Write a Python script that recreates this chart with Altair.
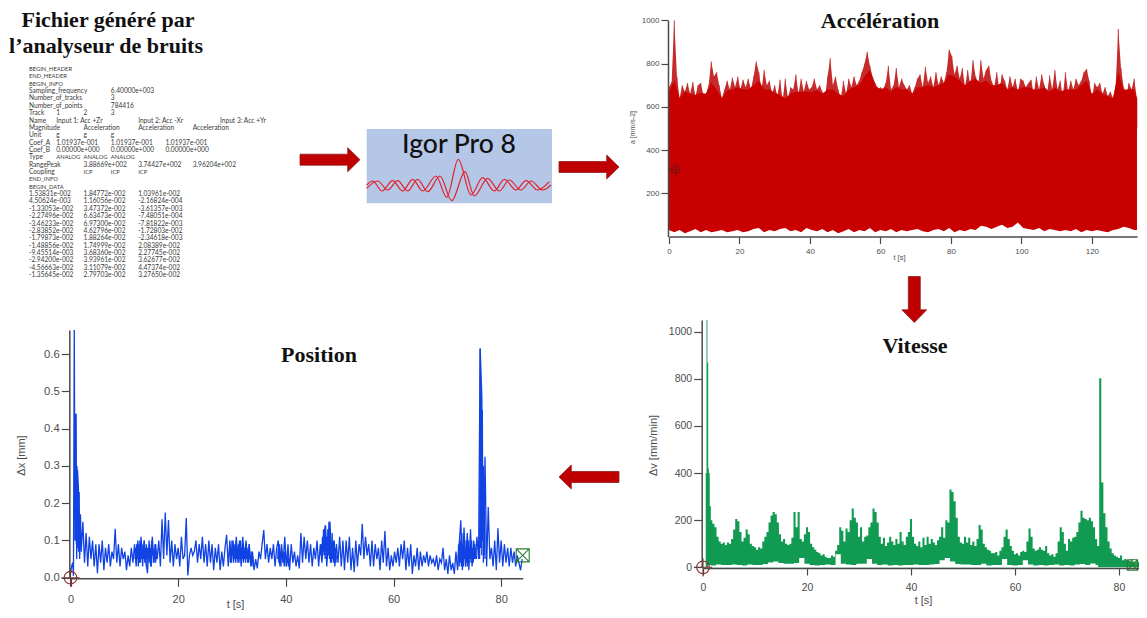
import altair as alt
import pandas as pd

# ---------- data ----------
accel_top = [690,715,1000,740,640,700,670,710,660,715,650,700,710,655,660,700,810,740,760,700,640,680,720,680,735,690,740,680,725,690,730,680,740,810,760,680,770,700,720,660,700,650,725,630,730,640,690,680,750,660,730,670,720,680,690,730,680,700,670,640,740,825,700,740,680,640,720,660,730,690,740,700,720,760,800,855,790,740,710,680,690,680,710,790,680,700,780,690,730,700,680,700,660,690,730,750,690,785,710,740,690,760,700,740,710,760,865,835,750,790,730,780,690,770,700,815,740,700,815,730,770,790,720,690,760,680,750,720,680,740,690,730,670,730,720,690,710,725,660,740,680,750,700,660,745,680,770,680,720,650,760,670,720,680,730,700,720,760,775,720,640,710,690,710,660,690,650,670,640,700,960,780,690,650,710,680,730,640]
accel_base = [670,720,640,670,660,655,665,660,710,680,640,675,680,690,680,680,700,720,680,680,665,655,640,660,670,670,670,670,675,660,680,680,660,650,680,690,700,740,770,700,680,690,670,690,680,680,660,690,690,700,690,700,710,750,740,720,700,720,730,710,720,700,700,710,680,690,680,690,690,680,680,690,670,690,670,680,680,680,700,720,660,680,660,650,640,760,680,680,680,640]
accel_low = [30,20,30,15,25,35,20,30,20,25,30,20,25,30,20,25,35,40,20,30,25,35,40,25,30,20,40,30,25,35,20,30,15,25,35,20,30,25,40,20,30,25,35,20,30,25,30,35,25,20,30,35,25,40,20,30,25,35,30,50,45,35,45,55,40,45,65,40,35,30,40,25,35,30,25,30,25,35,20,30,25,30,25,20,30,35,45,40,30,30]

pos_head_t = [0.0,0.2,0.4,0.55,0.7,0.85,1.0,1.15,1.3,1.5,1.7,1.85]
pos_head = [0.01,0.03,0.04,0.005,0.665,0.10,0.44,0.05,0.29,0.23,0.06,0.17]
pos_rows = [
 .07,.15,.04,.12,.03,.11,.05,.10,.03,.09,
 .012,.09,.04,.10,.02,.08,.04,.09,.03,.07,
 .05,.131,.04,.09,.03,.08,.05,.07,.02,.06,
 .03,.08,.04,.09,.03,.10,.04,.11,.05,.10,
 .04,.012,.10,.03,.11,.04,.09,.05,.10,.03,
 .157,.05,.175,.06,.155,.04,.10,.03,.09,.05,
 .08,.03,.11,.05,.06,.16,.006,.06,.08,.06,
 .07,.10,.04,.09,.05,.11,.04,.09,.03,.10,
 .04,.09,.02,.08,.04,.09,.02,.07,.03,.08,
 .115,.03,.10,.04,.10,.05,.11,.04,.10,.03,
 .11,.05,.10,.04,.09,.03,.07,.02,.05,.025,
 .07,.05,.09,.128,.05,.09,.04,.08,.05,.09,
 .03,.08,.10,.03,.09,.04,.11,.03,.09,.02,
 .09,.04,.07,.03,.06,.025,.12,.04,.11,.05,
 .10,.04,.09,.03,.08,.05,.10,.03,.09,.04,
 .10,.14,.03,.10,.151,.04,.10,.03,.09,.04,
 .11,.03,.10,.02,.10,.04,.11,.02,.08,.015,
 .10,.03,.09,.06,.145,.05,.11,.06,.09,.03,
 .10,.03,.09,.05,.08,.02,.10,.04,.125,.03,
 .08,.02,.06,.03,.07,.04,.08,.03,.09,.05,
 .10,.02,.08,.03,.09,.01,.06,.03,.08,.02,
 .07,.03,.06,.04,.07,.03,.06,.04,.05,.03,
 .06,.02,.05,.04,.08,.02,.05,.01,.06,.02,
 .04,.01,.07,.02,.09,.154,.02,.135,.03,.12,
 .02,.13,.03,.10,.05,.11,.05,.615,.49,.04,
 .325,.03,.19,.05,.08,.03,.10,.02,.133,.04,
 .10,.03,.09,.04,.08,.03,.08,.04,.07,.03,
 .06,.04,.02,.05]
# finer readings where the trace is densest: (first time, readings 0.1 s apart)
pos_dense = [
 (0.9, [.10,.44,.09,.30,.08,.25,.07,.23,.05]),
 (12.0, [.05,.08,.04,.09,.05,.07,.03,.09,.06,.10,.04,.08,.05,.09,.03,.07,.05,.10,.04,.08,.06,.09,.03,.08,.05,.07,.04,.09,.05,.08,.03,.10,.06,.08,.04,.07,.05,.09,.04,.06,.05]),
 (29.5, [.06,.09,.04,.08,.05,.10,.06,.08,.04,.09,.05,.07,.04,.10,.05,.08,.06,.09,.04,.07,.05,.10,.06,.08,.05,.09,.04,.07,.06,.08,.04,.09,.05,.08,.05,.07,.04,.09,.05,.06,.04,.07,.03,.06,.04]),
 (38.5, [.05,.08,.04,.09,.05,.07,.03,.08,.05,.07,.04,.06,.03,.07,.05,.06,.03,.05,.04,.06,.03,.05,.04]),
 (46.5, [.06,.09,.05,.11,.07,.13,.06,.12,.05,.14,.07,.11,.05,.13,.06,.15,.05,.12,.04,.10,.06,.12,.05,.09,.04,.10,.05,.08,.04,.06]),
 (72.0, [.05,.09,.03,.11,.04,.10,.03,.12,.05,.09,.03,.11,.05,.08,.03,.10,.04,.09,.03,.10,.04,.08,.05,.09,.04,.10,.05,.08,.04,.07,.05,.09,.06,.08,.05]),
 (76.0, [.05,.615,.08,.49,.06,.45,.10,.30,.06,.25,.05]),
]

vit_head_t = [0.45,0.6,0.75,0.95,1.05,1.2,1.4]
vit_head = [0,400,1050,870,420,400,260]
vit_rows = [
 200,185,170,130,110,100,105,95,105,100,
 120,160,205,195,150,110,125,160,140,100,
 90,85,75,85,80,110,130,150,190,220,
 235,225,190,140,110,120,100,95,100,125,
 235,170,235,120,110,140,170,150,100,85,
 75,65,60,50,55,45,40,40,50,45,
 70,95,170,155,110,165,150,200,250,210,
 190,130,170,110,130,135,170,190,250,235,
 190,130,100,125,90,105,130,110,95,120,
 100,150,110,95,130,150,205,130,100,90,
 110,85,125,95,130,100,120,105,95,115,
 130,170,125,200,190,330,320,280,210,130,
 105,100,130,105,125,95,110,90,120,180,
 160,100,85,75,70,60,60,65,50,70,
 85,130,160,120,90,70,55,60,50,65,
 70,65,110,165,130,80,70,75,85,75,
 70,90,60,50,55,45,60,110,170,150,
 100,70,120,110,125,130,150,190,240,210,
 205,200,210,195,170,120,90,803,360,230,
 170,110,80,60,50,45,40,50,30,35,
 30,25,35,25,20,22,20,20]
vit_gap = [10,8,12,10,10,12,10,8,12,10,10,14,20,25,18,15,15,18,40,15,10,8,10,12,10,55,15,12,10,15,15,35,15,10,12,8,10,8,10,10,12,10,10,12,14,30,40,25,14,12,12,10,10,15,8,10,10,35,10,8,10,30,12,8,10,8,10,12,8,10,8,12,14,10,16,10]

wave_a_x = [0.7,6.7,16,26.7,36.7,46.7,56.7,70,80.7,92.3,105,116.7,128.3,138.3,150,160,171.7,183.3]
wave_a_y = [1,5,-5,5.3,-5,6.7,-5,10,-11.3,26.7,-9,8.3,-5,6.7,-4,5.3,-4,4.3]
wave_b_x = [0.7,11.7,21.7,31.7,41.7,51.7,61.7,74,85.7,99,108.3,121.7,133.3,143.3,155,165,176.7,185]
wave_b_y = [-2.3,5,-4,5.3,-5,6.7,-5.7,10,-14.7,14.3,-10,7.7,-5,6,-4,5,-4,1]

dump_lines = [
 (0,0,"BEGIN_HEADER"),(1,0,"END_HEADER"),(2,0,"BEGIN_INFO"),
 (3,0,"Sampling_frequency"),(3,3,"6.40000e+003"),
 (4,0,"Number_of_tracks"),(4,3,"3"),
 (5,0,"Number_of_points"),(5,3,"784416"),
 (6,0,"Track"),(6,1,"1"),(6,2,"2"),(6,3,"3"),
 (7,0,"Name"),(7,1,"Input 1: Acc +Zr"),(7,4,"Input 2: Acc -Xr"),(7,7,"Input 3: Acc +Yr"),
 (8,0,"Magnitude"),(8,2,"Acceleration"),(8,4,"Acceleration"),(8,6,"Acceleration"),
 (9,0,"Unit"),(9,1,"g"),(9,2,"g"),(9,3,"g"),
 (10,0,"Coef_A"),(10,1,"1.01937e-001"),(10,3,"1.01937e-001"),(10,5,"1.01937e-001"),
 (11,0,"Coef_B"),(11,1,"0.00000e+000"),(11,3,"0.00000e+000"),(11,5,"0.00000e+000"),
 (12,0,"Type"),(12,1,"ANALOG"),(12,2,"ANALOG"),(12,3,"ANALOG"),
 (13,0,"RangePeak"),(13,2,"3.88669e+002"),(13,4,"3.74427e+002"),(13,6,"3.96204e+002"),
 (14,0,"Coupling"),(14,2,"ICP"),(14,3,"ICP"),(14,4,"ICP"),
 (15,0,"END_INFO"),(16,0,"BEGIN_DATA"),
]
dump_data = [
 ("1.53831e-002","1.84772e-002","1.03961e-002"),
 ("4.50624e-003","1.16056e-002","-2.16824e-004"),
 ("-1.33053e-002","3.47372e-002","-3.61357e-003"),
 ("-2.27496e-002","6.63473e-002","-7.48051e-004"),
 ("-3.46233e-002","6.97300e-002","-7.81822e-003"),
 ("-2.83852e-002","4.62796e-002","-1.72803e-002"),
 ("-1.79873e-002","1.88264e-002","-2.34618e-003"),
 ("-1.48856e-002","1.74999e-002","2.08389e-002"),
 ("-9.45514e-003","3.68360e-002","2.27745e-002"),
 ("-2.94200e-002","3.93961e-002","3.62677e-002"),
 ("-4.56663e-002","3.11079e-002","4.47374e-002"),
 ("-1.35645e-002","2.79703e-002","3.27650e-002"),
]

# ---------- tables ----------
n = min(len(accel_base), len(accel_low))
accel_area = pd.DataFrame({"t": [min(i * 1.5, 132.8) for i in range(n)],
                           "hi": accel_base[:n], "lo": accel_low[:n]})
accel_spikes = pd.DataFrame({"t": [i * 0.75 for i in range(len(accel_top))], "v": accel_top})
pos_df = pd.DataFrame({"t": pos_head_t + [2 + 0.3 * i for i in range(len(pos_rows))],
                       "v": pos_head + pos_rows})
dense_rows = []
for seg, (start, vals) in enumerate(pos_dense):
    for i, v in enumerate(vals):
        dense_rows.append((seg, start + 0.1 * i, v))
dense_df = pd.DataFrame(dense_rows, columns=["seg", "t", "v"])
vit_df = pd.DataFrame({"t": vit_head_t + [1.6 + 0.4 * i for i in range(len(vit_rows))],
                       "v": vit_head + vit_rows})
gap_df = pd.DataFrame({"t": [i + 1 for i in range(len(vit_gap))], "v": vit_gap})
rows = list(dump_lines)
for i, r in enumerate(dump_data):
    for c, s in zip((0, 2, 4), r):
        rows.append((17 + i, c, s))
dump_df = pd.DataFrame(rows, columns=["line", "tab", "text"])
dump_caps = dump_df[dump_df["text"].str.isupper()]
dump_rest = dump_df[~dump_df["text"].str.isupper()]

W, H = 1131, 602
FONT = "Liberation Sans"
AX = "#4a4a4a"

def axis(orient, offset, values, size, tick, title=None, tx=None, ty=None, tsize=None, pad=2):
    kw = dict(orient=orient, offset=offset, values=values, grid=False, zindex=1, format="d",
              domainColor=AX, domainWidth=1.5, tickColor=AX, tickWidth=1.2, tickSize=tick,
              labelColor="#4d4d4d", labelFont=FONT, labelFontSize=size, labelPadding=pad,
              labelFlush=False, labelOverlap=False)
    if title:
        kw.update(title=title, titleX=tx, titleY=ty, titleFont=FONT, titleFontSize=tsize,
                  titleFontWeight="normal", titleColor="#4d4d4d", titleAlign="center",
                  titleBaseline="middle")
    else:
        kw.update(title=None)
    return alt.Axis(**kw)

# panel scales (pixel ranges inside the shared canvas)
ax_scale = alt.Scale(domain=[0, 132.8], range=[661, 1129], nice=False, zero=False)
ay_scale = alt.Scale(domain=[0, 1000], range=[228.6, 12.3], nice=False)
px_scale = alt.Scale(domain=[0, 84], range=[62.5, 514.7], nice=False)
py_scale = alt.Scale(domain=[0, 0.665], range=[569.7, 322], nice=False)
vx_scale = alt.Scale(domain=[0, 85.2], range=[695, 1138], nice=False)
vy_scale = alt.Scale(domain=[0, 1050], range=[559.3, 312], nice=False)
wx_scale = alt.Scale(domain=[0, 186], range=[358, 544], nice=False)
wy_scale = alt.Scale(domain=[-20, 30], range=[198, 148], nice=False)
tab_scale = alt.Scale(domain=[0, 7], range=[21, 212], nice=False)
line_scale = alt.Scale(domain=[0, 28], range=[61, 267], nice=False)

def X(f, s, ax=None):
    return alt.X(f, type="quantitative", scale=s, axis=ax)
def Y(f, s, ax=None):
    return alt.Y(f, type="quantitative", scale=s, axis=ax)

layers = []

# --- file dump
for df, fs in [(dump_rest, 6.6), (dump_caps, 5.8)]:
    layers.append(alt.Chart(df).mark_text(align="left", baseline="middle", font="Lato",
                                          fontSize=fs, color="#3a3a3a").encode(
        x=X("tab", tab_scale), y=Y("line", line_scale), text="text:N"))

# --- Igor box
box = pd.DataFrame({"label": ["Igor Pro 8"]})
layers.append(alt.Chart(box).mark_rect(fill="#b4c7e7").encode(
    x=alt.value(358.7), x2=alt.value(544), y=alt.value(121), y2=alt.value(195.3)))
layers.append(alt.Chart(pd.DataFrame({"t": wave_a_x, "v": wave_a_y})).mark_line(
    color="#e2222e", strokeWidth=1.2, interpolate="monotone").encode(
    x=X("t", wx_scale), y=Y("v", wy_scale)))
layers.append(alt.Chart(pd.DataFrame({"t": wave_b_x, "v": wave_b_y})).mark_line(
    color="#e2222e", strokeWidth=1.2, interpolate="monotone").encode(
    x=X("t", wx_scale), y=Y("v", wy_scale)))
layers.append(alt.Chart(box).mark_text(font="Lato", fontSize=26.5, color="#111111",
                                       fontWeight=500, baseline="middle").encode(
    x=alt.value(451), y=alt.value(137), text="label:N"))

# --- arrows
ARROW = "M-1,-.183L.59,-.183L.59,-.4L1,0L.59,.4L.59,.183L-1,.183Z"
ARROW_D = "M-1,-.26L.45,-.26L.45,-.54L1,0L.45,.54L.45,.26L-1,.26Z"
one = pd.DataFrame({"n": [1]})
for path, size, angle, x, y in [(ARROW, 3600, 0, 322, 151.7), (ARROW, 3600, 0, 581, 159),
                                (ARROW_D, 2116, 90, 906.3, 291.5), (ARROW, 3600, 180, 581, 469)]:
    layers.append(alt.Chart(one).mark_point(shape=path, size=size, angle=angle, filled=True,
                                            fill="#c00000", stroke="#8e2020", strokeWidth=0.8,
                                            opacity=1).encode(
        x=alt.value(x), y=alt.value(y)))

# --- Accélération
layers.append(alt.Chart(accel_spikes).mark_rule(color="#c46a6a", strokeWidth=1.2).encode(
    x=X("t", ax_scale,
        axis("bottom", 228.6 - H, [0, 20, 40, 60, 80, 100, 120], 8, 7, "t [s]", 891, 21, 7.5, 4)),
    y=Y("v", ay_scale,
        axis("left", -660, [200, 400, 600, 800, 1000], 8, 7, "a [mm/s-2]", -36, 119, 7)),
    y2=alt.datum(500)))
layers.append(alt.Chart(accel_spikes).mark_area(color="#c62a2a").encode(
    x=X("t", ax_scale), y=Y("v", ay_scale), y2=alt.datum(500)))
layers.append(alt.Chart(accel_area).mark_area(color="#c80000").encode(
    x=X("t", ax_scale), y=Y("hi", ay_scale), y2="lo:Q"))

# --- Position
pos_axis_y = alt.Axis(orient="left", offset=-61.3, values=[0, 0.1, 0.2, 0.3, 0.4, 0.5, 0.6],
                      grid=False, zindex=1, format=".1f", domainColor=AX, domainWidth=1.5,
                      tickColor=AX, tickWidth=1.2, tickSize=8, labelColor="#4d4d4d",
                      labelFont=FONT, labelFontSize=11.3, labelPadding=2, labelOverlap=False,
                      title="Δx [mm]", titleX=-47.6, titleY=447, titleFont=FONT, titleFontSize=11,
                      titleFontWeight="normal", titleColor="#4d4d4d", titleAlign="center",
                      titleBaseline="middle")
layers.append(alt.Chart(pos_df).mark_line(color="#1142e4", strokeWidth=1.3).encode(
    x=X("t", px_scale,
        axis("bottom", 570.3 - H, [0, 20, 40, 60, 80], 11, 8, "t [s]", 227, 26, 11, 7)),
    y=Y("v", py_scale, pos_axis_y)))
layers.append(alt.Chart(dense_df).mark_line(color="#1142e4", strokeWidth=1.3).encode(
    x=X("t", px_scale), y=Y("v", py_scale), detail="seg:N"))

# --- Vitesse
layers.append(alt.Chart(vit_df).mark_area(color="#119a52", interpolate="step").encode(
    x=X("t", vx_scale,
        axis("bottom", 560 - H, [0, 20, 40, 60, 80], 10.5, 7, "t [s]", 915, 32, 11, 7)),
    y=Y("v", vy_scale,
        axis("left", -693.7, [0, 200, 400, 600, 800, 1000], 10.5, 8, "Δv [mm/min]", -48.7, 437, 11))))
layers.append(alt.Chart(gap_df).mark_area(color="#ffffff", interpolate="step").encode(
    x=X("t", vx_scale), y=Y("v", vy_scale)))

# --- cursors
CURSOR_A = "M-1.45,0L1.45,0M0,-1.45L0,1.45M1,0A1,1 0 1,1 -1,0A1,1 0 1,1 1,0Z"
CURSOR_B = "M-1,-1L1,-1L1,1L-1,1ZM-1,-1L1,1M-1,1L1,-1"
for df, xs, ys, shape, size, col in [
    (pd.DataFrame({"t": [1.9], "v": [310]}), ax_scale, ay_scale, CURSOR_A, 64, "#7a1212"),
    (pd.DataFrame({"t": [0.0], "v": [0.0]}), px_scale, py_scale, CURSOR_A, 160, "#8f2a2a"),
    (pd.DataFrame({"t": [0.0], "v": [0]}), vx_scale, vy_scale, CURSOR_A, 160, "#8f2a2a"),
    (pd.DataFrame({"t": [84.0], "v": [0.06]}), px_scale, py_scale, CURSOR_B, 169, "#2f7d32"),
    (pd.DataFrame({"t": [82.6], "v": [10]}), vx_scale, vy_scale, CURSOR_B, 108, "#2f7d32"),
]:
    layers.append(alt.Chart(df).mark_point(shape=shape, size=size, filled=False, color=col,
                                           strokeWidth=1.1, opacity=1).encode(
        x=X("t", xs), y=Y("v", ys)))

# --- headings
for label, x, y in [("Fichier généré par", 100, 12), ("l’analyseur de bruits", 98, 38),
                    ("Accélération", 872, 12.5), ("Vitesse", 907, 338), ("Position", 311, 347)]:
    layers.append(alt.Chart(pd.DataFrame({"label": [label]})).mark_text(
        font="Liberation Serif", fontWeight="bold", fontSize=22, color="#111111",
        baseline="middle").encode(x=alt.value(x), y=alt.value(y), text="label:N"))

chart = alt.layer(*layers).resolve_scale(x="independent", y="independent").properties(
    width=W, height=H, padding=0, background="#ffffff",
    autosize=alt.AutoSizeParams(type="none")
).configure_view(stroke=None)

chart.save("out.html", embed_options={"renderer": "svg", "actions": False})
